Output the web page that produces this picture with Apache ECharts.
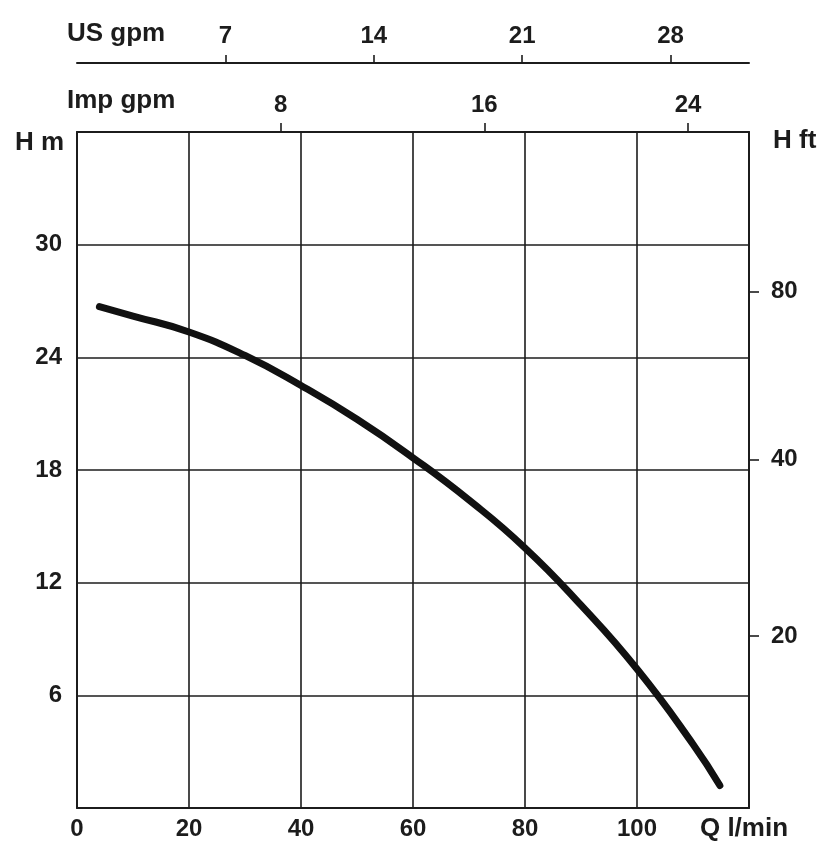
<!DOCTYPE html>
<html>
<head>
<meta charset="utf-8">
<script src="https://cdn.jsdelivr.net/npm/echarts@6.0.0/dist/echarts.min.js"></script>
<style>
html,body{margin:0;padding:0;background:#fff;}
#chart{width:821px;height:843px;}
</style>
</head>
<body>
<div id="chart"></div>
<script>
// ---- data ----
const flowLpm = [4, 10, 20, 30, 40, 50, 60, 70, 80, 90, 100, 110, 114.8];
const headM   = [26.7, 26.2, 25.35, 24.1, 22.5, 20.7, 18.65, 16.4, 13.85, 10.8, 7.4, 3.4, 1.2];

const qTicks = [0, 20, 40, 60, 80, 100];          // l/min labels
const hTicks = [6, 12, 18, 24, 30];               // H m labels
const impTicks = [8, 16, 24];                     // Imp gpm labels
const usTicks = [7, 14, 21, 28];                  // US gpm labels
const ftTickLabels = [20, 40, 80];                // H ft labels as printed
const ftTickAtMetres = [9.15, 18.55, 27.5];       // where each ft label sits on the metre scale

const Q_MAX = 120, H_MAX = 36;
const L_PER_IMP_GAL = 4.54609, L_PER_US_GAL = 3.78541;

const INK = '#1c1c1c';
const FONT = 'Liberation Sans, Arial, sans-serif';

const chart = echarts.init(document.getElementById('chart'), null, {renderer: 'canvas'});

const labelStyle = {color: INK, fontFamily: FONT, fontWeight: 'bold', fontSize: 24};
const nameFont = 'bold 26px ' + FONT;

chart.setOption({
  backgroundColor: '#ffffff',
  animation: false,
  grid: {left: 77, right: 72, top: 132, bottom: 35, outerBoundsMode: 'none', containLabel: false},
  xAxis: [
    {
      type: 'value', position: 'bottom', min: 0, max: Q_MAX, interval: 20,
      axisLine: {show: true, onZero: false, lineStyle: {color: INK, width: 2}},
      axisTick: {show: false},
      axisLabel: Object.assign({customValues: qTicks, margin: 9}, labelStyle),
      splitLine: {show: true, lineStyle: {color: INK, width: 1.6}}
    },
    {
      type: 'value', position: 'top', min: 0, max: Q_MAX / L_PER_IMP_GAL,
      axisLine: {show: true, onZero: false, lineStyle: {color: INK, width: 2}},
      axisTick: {show: true, customValues: impTicks, length: 9, lineStyle: {color: INK, width: 1.6}},
      axisLabel: Object.assign({customValues: impTicks, margin: 15}, labelStyle),
      splitLine: {show: false}
    },
    {
      type: 'value', position: 'top', offset: 69, min: 0, max: Q_MAX / L_PER_US_GAL,
      axisLine: {show: true, onZero: false, lineStyle: {color: INK, width: 2}},
      axisTick: {show: true, customValues: usTicks, length: 8, lineStyle: {color: INK, width: 1.6}},
      axisLabel: Object.assign({customValues: usTicks, margin: 15}, labelStyle),
      splitLine: {show: false}
    }
  ],
  yAxis: [
    {
      type: 'value', position: 'left', min: 0, max: H_MAX, interval: 6,
      axisLine: {show: true, onZero: false, lineStyle: {color: INK, width: 2}},
      axisTick: {show: false},
      axisLabel: Object.assign({customValues: hTicks, margin: 15}, labelStyle),
      splitLine: {show: true, lineStyle: {color: INK, width: 1.6}}
    },
    {
      type: 'value', position: 'right', min: 0, max: H_MAX,
      axisLine: {show: true, onZero: false, lineStyle: {color: INK, width: 2}},
      axisTick: {show: true, customValues: ftTickAtMetres, length: 10, lineStyle: {color: INK, width: 1.6}},
      axisLabel: Object.assign({
        customValues: ftTickAtMetres, margin: 22,
        formatter: v => String(ftTickLabels[ftTickAtMetres.indexOf(v)])
      }, labelStyle),
      splitLine: {show: false}
    }
  ],
  graphic: [
    {type: 'text', x: 67, y: 34, style: {text: 'US gpm', fill: INK, font: nameFont, align: 'left', verticalAlign: 'middle'}},
    {type: 'text', x: 67, y: 101, style: {text: 'Imp gpm', fill: INK, font: nameFont, align: 'left', verticalAlign: 'middle'}},
    {type: 'text', x: 15, y: 143, style: {text: 'H m', fill: INK, font: nameFont, align: 'left', verticalAlign: 'middle'}},
    {type: 'text', x: 773, y: 141, style: {text: 'H ft', fill: INK, font: nameFont, align: 'left', verticalAlign: 'middle'}},
    {type: 'text', x: 744, y: 829, style: {text: 'Q l/min', fill: INK, font: nameFont, align: 'center', verticalAlign: 'middle'}}
  ],
  series: [
    {
      type: 'line', xAxisIndex: 0, yAxisIndex: 0,
      data: flowLpm.map((q, i) => [q, headM[i]]),
      smooth: 0.5, showSymbol: false,
      lineStyle: {color: '#111', width: 7, cap: 'round', join: 'round'}
    }
  ]
});
</script>
</body>
</html>
